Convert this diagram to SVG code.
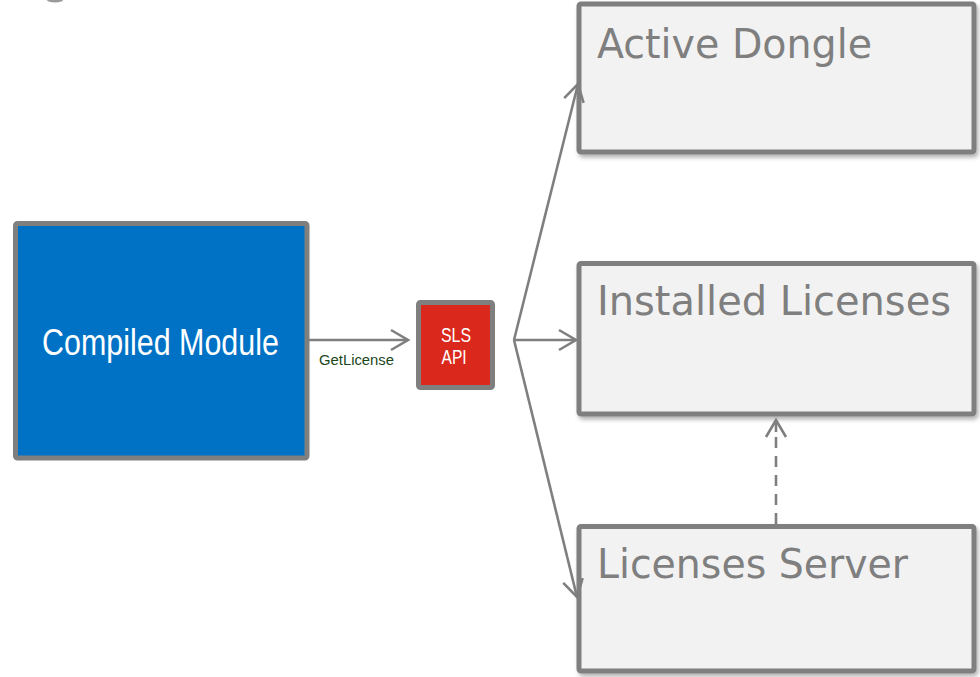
<svg xmlns="http://www.w3.org/2000/svg" width="980" height="677" viewBox="0 0 980 677">
  <style>
    .box { fill: #F2F2F2; stroke: #7F7F7F; stroke-width: 5; }
    .big { font-family: "DejaVu Sans", Tahoma, sans-serif; font-size: 41px; fill: #7F7F7F; }
    .conn { stroke: #7F7F7F; stroke-width: 2.6; fill: none; }
    .white { font-family: "Liberation Sans", Arial, sans-serif; fill: #FFFFFF; }
  </style>
  <defs>
    <filter id="shadow" x="-10%" y="-10%" width="120%" height="130%">
      <feDropShadow dx="2" dy="3" stdDeviation="2" flood-color="#000" flood-opacity="0.3"/>
    </filter>
    <marker id="arrow" viewBox="-19 -12 22 24" refX="0" refY="0" markerWidth="22" markerHeight="24" markerUnits="userSpaceOnUse" orient="auto">
      <path d="M-17,-10 L0,0 L-17,10" fill="none" stroke="#7F7F7F" stroke-width="2.6" stroke-linejoin="miter"/>
    </marker>
  </defs>
  <rect width="980" height="677" fill="#FFFFFF"/>
  <ellipse cx="55" cy="0" rx="8" ry="2.6" fill="#9A9A9A"/>

  <g id="compiled-module">
    <rect x="15.5" y="223.5" width="291.5" height="234.5" rx="2" fill="#0072C6" stroke="#7F7F7F" stroke-width="5"/>
    <text class="white" transform="translate(42,355) scale(0.823,1)" font-size="37">Compiled Module</text>
  </g>

  <g id="sls-api">
    <rect x="418.5" y="302.5" width="74" height="85" rx="2" fill="#DA291C" stroke="#7F7F7F" stroke-width="5"/>
    <text class="white" transform="translate(441,342.3) scale(0.815,1)" font-size="19.5">SLS</text>
    <text class="white" transform="translate(441.5,364) scale(0.8,1)" font-size="19.5">API</text>
  </g>

  <g id="active-dongle">
    <rect class="box" x="579" y="4" width="395" height="148" rx="2" filter="url(#shadow)"/>
    <text class="big" x="597" y="58" textLength="275" lengthAdjust="spacingAndGlyphs">Active Dongle</text>
  </g>

  <g id="installed-licenses">
    <rect class="box" x="579" y="263.5" width="395" height="150.5" rx="2" filter="url(#shadow)"/>
    <text class="big" x="597" y="315" textLength="354" lengthAdjust="spacingAndGlyphs">Installed Licenses</text>
  </g>

  <g id="licenses-server">
    <rect class="box" x="579" y="526.5" width="395" height="144.5" rx="2" filter="url(#shadow)"/>
    <text class="big" x="597" y="577.5" textLength="311" lengthAdjust="spacingAndGlyphs">Licenses Server</text>
  </g>

  <g id="connectors">
    <line class="conn" x1="309" y1="340" x2="408" y2="340" marker-end="url(#arrow)"/>
    <text x="319" y="365" font-family="Liberation Sans, Arial, sans-serif" font-size="14" fill="#1A471A" textLength="75" lengthAdjust="spacingAndGlyphs">GetLicense</text>
    <line class="conn" x1="514" y1="340" x2="578" y2="84" marker-end="url(#arrow)"/>
    <line class="conn" x1="514" y1="340" x2="576" y2="340" marker-end="url(#arrow)"/>
    <line class="conn" x1="514" y1="340" x2="577" y2="597" marker-end="url(#arrow)"/>
    <line class="conn" x1="776" y1="524" x2="776" y2="432" stroke-dasharray="11 8"/>
    <line class="conn" x1="776" y1="432" x2="776" y2="420" marker-end="url(#arrow)"/>
  </g>
</svg>
